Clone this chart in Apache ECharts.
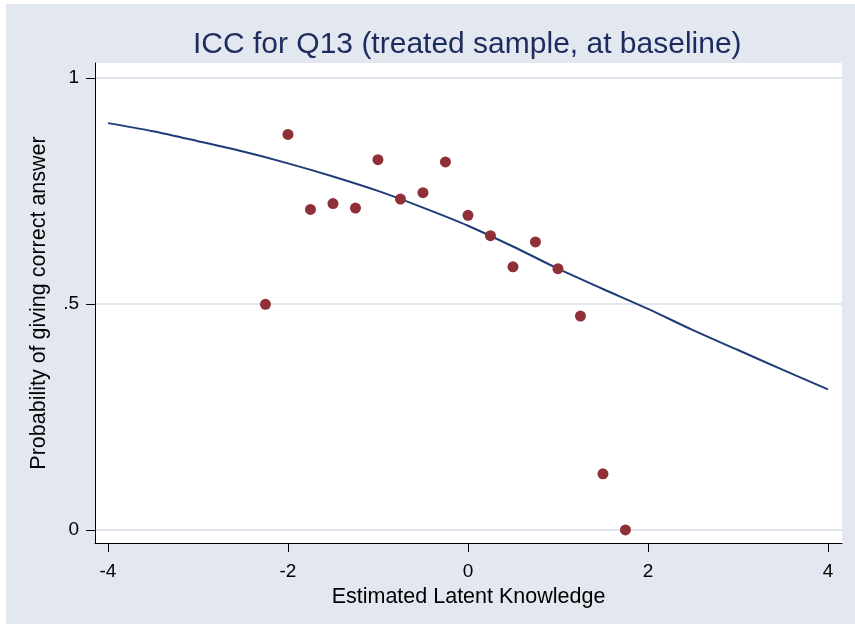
<!DOCTYPE html>
<html>
<head>
<meta charset="utf-8">
<script src="https://cdn.jsdelivr.net/npm/echarts@6/dist/echarts.min.js"></script>
<style>
  body { margin: 0; background: #fff; }
  #bg { position: absolute; left: 6px; top: 4px; width: 849px; height: 620px; background: #e2e7f0; }
  #chart { position: absolute; left: 0; top: 0; width: 855px; height: 625px; }
</style>
</head>
<body>
<div id="bg"></div>
<div id="chart"></div>
<script>
// observed proportions correct by ability group
const groupAbility = [-2.25, -2, -1.75, -1.5, -1.25, -1, -0.75, -0.5, -0.25, 0, 0.25, 0.5, 0.75, 1, 1.25, 1.5, 1.75];
const groupProportion = [0.499, 0.875, 0.709, 0.722, 0.712, 0.819, 0.732, 0.746, 0.814, 0.696, 0.651, 0.582, 0.637, 0.578, 0.473, 0.124, 0];

// fitted item characteristic curve
const curveAbility = [-4, -3.5, -3, -2.5, -2, -1.5, -1, -0.5, 0, 0.5, 1, 1.5, 2, 2.5, 3, 3.5, 4];
const curveProb = [0.900, 0.882, 0.860, 0.837, 0.811, 0.782, 0.750, 0.713, 0.673, 0.627, 0.578, 0.533, 0.489, 0.442, 0.398, 0.354, 0.311];

const xTicks = [-4, -2, 0, 2, 4];
const yTicks = [0, 0.5, 1];
const yTickLabels = ['0', '.5', '1'];

const chart = echarts.init(document.getElementById('chart'), null, { renderer: 'canvas' });

const fontFamily = 'Liberation Sans, Arial, sans-serif';
const labelFont = { color: '#000', fontFamily, fontSize: 19 };
const nameFont = { color: '#000', fontFamily, fontSize: 21.5 };

chart.setOption({
  animation: false,
  backgroundColor: 'transparent',
  title: {
    text: 'ICC for Q13 (treated sample, at baseline)',
    left: 188,
    top: 25,
    textStyle: { color: '#1d2c5c', fontFamily, fontSize: 30, fontWeight: 'normal' },
  },
  grid: {
    left: 95,
    right: 13,
    top: 63,
    bottom: 82,
    show: true,
    backgroundColor: '#fff',
    borderWidth: 0,
  },
  xAxis: {
    type: 'value',
    min: -4.144,
    max: 4.156,
    name: 'Estimated Latent Knowledge',
    nameLocation: 'middle',
    nameGap: 37,
    nameTextStyle: nameFont,
    axisLine: { show: true, onZero: false, lineStyle: { color: '#000', width: 1 } },
    axisTick: { show: true, length: 9, customValues: xTicks, lineStyle: { color: '#000' } },
    axisLabel: {
      ...labelFont,
      margin: 19,
      customValues: xTicks,
      formatter: v => String(v),
    },
    splitLine: { show: false },
  },
  yAxis: {
    type: 'value',
    min: -0.029,
    max: 1.033,
    name: 'Probability of giving correct answer',
    nameLocation: 'middle',
    nameGap: 45,
    nameTextStyle: nameFont,
    axisLine: { show: true, onZero: false, lineStyle: { color: '#000', width: 1 } },
    axisTick: { show: true, length: 9, customValues: yTicks, lineStyle: { color: '#000' } },
    axisLabel: {
      ...labelFont,
      margin: 16,
      customValues: yTicks,
      formatter: v => yTickLabels[yTicks.indexOf(v)] ?? '',
    },
    splitLine: { show: true, lineStyle: { color: '#e1e6ef', width: 2 } },
  },
  series: [
    {
      name: 'fitted',
      type: 'line',
      data: curveAbility.map((x, i) => [x, curveProb[i]]),
      smooth: 0.3,
      showSymbol: false,
      lineStyle: { color: '#1f3c78', width: 2 },
      z: 2,
    },
    {
      name: 'observed',
      type: 'scatter',
      data: groupAbility.map((x, i) => [x, groupProportion[i]]),
      symbol: 'circle',
      symbolSize: 11,
      itemStyle: { color: '#8f3039', opacity: 1 },
      z: 3,
    },
  ],
});
</script>
</body>
</html>
